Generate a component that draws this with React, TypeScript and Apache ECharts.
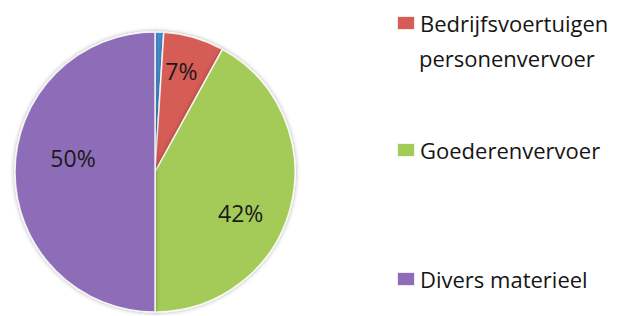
import React, { useEffect, useRef } from "react";
import * as echarts from "echarts";

const categories = ["Overig", "Bedrijfsvoertuigen personenvervoer", "Goederenvervoer", "Divers materieel"];
const legendLines = ["Bedrijfsvoertuigen", "personenvervoer"];
const values = [1, 7, 42, 50];
const colors = ["#4a8fd0", "#d65c57", "#a4cb58", "#8e6db8"];
const labelOffsets: [number, number][] = [[0, 0], [6, -31], [15, 23], [-9, -14]];

export default function App() {
  const ref = useRef<HTMLDivElement>(null);
  useEffect(() => {
    const chart = echarts.init(ref.current!, null, { renderer: "svg" });
    const font = "'Open Sans', sans-serif";
    const legendText = { fontFamily: font, fontSize: 22, color: "#151515", lineHeight: 24 };
    const legendBase = {
      orient: "vertical" as const,
      left: 388,
      icon: "rect",
      itemWidth: 18,
      itemHeight: 14,
      itemGap: 0,
      padding: 0,
      selectedMode: false,
      textStyle: legendText,
    };
    chart.setOption({
      animation: false,
      legend: [
        {
          ...legendBase,
          top: 3,
          data: [categories[1]],
          formatter: () => legendLines[0],
        },
        { ...legendBase, top: 130, data: [categories[2]] },
        { ...legendBase, top: 259, data: [categories[3]] },
      ],
      graphic: [
        {
          type: "text",
          left: 411,
          top: 38,
          style: { text: legendLines[1], fontFamily: font, fontSize: 22, fill: "#151515", lineHeight: 24 },
        },
      ],
      series: [
        {
          type: "pie",
          center: [147, 164],
          radius: 140,
          startAngle: 90,
          clockwise: true,
          avoidLabelOverlap: false,
          itemStyle: {
            borderColor: "rgba(255,255,255,0.85)",
            borderWidth: 1.5,
            shadowBlur: 4,
            shadowColor: "rgba(0,0,0,0.35)",
          },
          label: {
            position: "inside",
            formatter: (p: any) => (p.dataIndex === 0 ? "" : p.value + "%"),
            fontFamily: font,
            fontSize: 23,
            color: "#1a1a1a",
          },
          labelLine: { show: false },
          data: values.map((v, i) => ({
            name: categories[i],
            value: v,
            itemStyle: { color: colors[i] },
            label: { offset: labelOffsets[i] },
          })),
        },
      ],
    });
    return () => chart.dispose();
  }, []);
  return <div ref={ref} style={{ width: 617, height: 308 }} />;
}
